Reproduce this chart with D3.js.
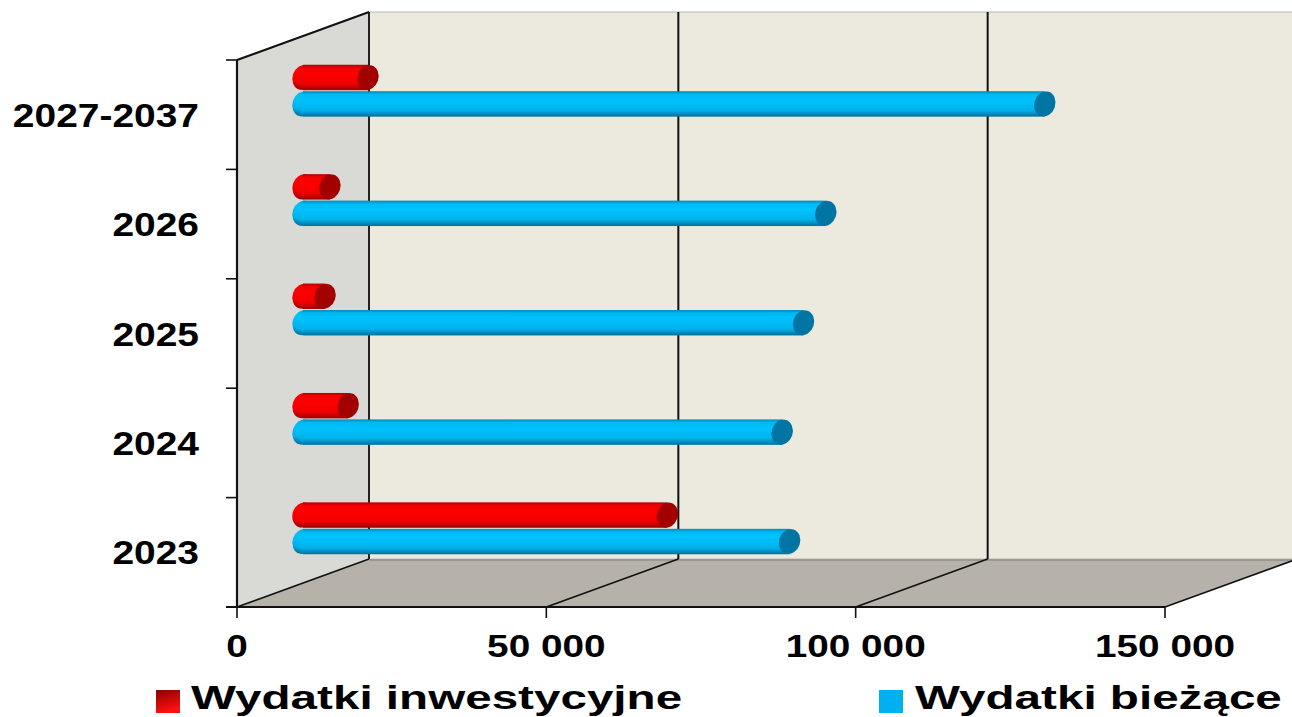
<!DOCTYPE html>
<html>
<head>
<meta charset="utf-8">
<script src="https://cdn.jsdelivr.net/npm/d3@7/dist/d3.min.js"></script>
<style>
  html, body { margin: 0; padding: 0; background: #ffffff; }
  svg { display: block; }
  text { font-family: "Liberation Sans", Arial, sans-serif; font-weight: bold; fill: #000; }
</style>
</head>
<body>
<svg id="chart" width="1292" height="717"></svg>
<script>
// Spending by period (thousand PLN)
const categories = ["2023", "2024", "2025", "2026", "2027-2037"];
const seriesNames = ["Wydatki inwestycyjne", "Wydatki bieżące"];
const investmentValues = [58900, 7300, 3550, 4350, 10500];
const currentValues = [78650, 77450, 80900, 84500, 119900];
const xTicks = [0, 50000, 100000, 150000];

const W = 1292, H = 717;
const svg = d3.select("#chart");

// Oblique depth of the 3D box: back wall offset
const depthX = 132, depthY = -48;
const plotTop = 60, plotBottom = 607;

const x = d3.scaleLinear().domain([0, 150000]).range([237, 1165]);
const y = d3.scaleBand().domain(categories).range([plotBottom, plotTop]).padding(0);
const ySub = d3.scaleBand().domain(seriesNames).range([-27, 27]).padding(0.04);

const fmt = v => d3.format(",")(v).replace(/,/g, " ");

const defs = svg.append("defs");
function cylGradient(id, stops) {
  const g = defs.append("linearGradient").attr("id", id)
    .attr("x1", 0).attr("y1", 0).attr("x2", 0).attr("y2", 1);
  stops.forEach(([o, c]) => g.append("stop").attr("offset", o).attr("stop-color", c));
}
cylGradient("cyl-red", [[0, "#b00000"], [0.12, "#f20000"], [0.35, "#ff0000"], [0.75, "#f00000"], [1, "#9a0000"]]);
cylGradient("cyl-blue", [[0, "#0088b8"], [0.12, "#00b8f0"], [0.35, "#00c2ff"], [0.75, "#00b2ea"], [1, "#006f9c"]]);
const legRed = defs.append("linearGradient").attr("id", "leg-red")
  .attr("x1", 0).attr("y1", 0).attr("x2", 0.3).attr("y2", 1);
legRed.append("stop").attr("offset", 0).attr("stop-color", "#8a0000");
legRed.append("stop").attr("offset", 1).attr("stop-color", "#ff1010");

const seriesStyle = {
  "Wydatki inwestycyjne": { body: "url(#cyl-red)", cap: "#a30000", values: investmentValues },
  "Wydatki bieżące": { body: "url(#cyl-blue)", cap: "#0075a4", values: currentValues }
};

// ---- 3D box: back wall, side wall, floor ----
const x0 = x(0), xMax = x(150000);
svg.append("polygon")
  .attr("points", [[x0 + depthX, plotTop + depthY], [xMax + depthX, plotTop + depthY],
                   [xMax + depthX, plotBottom + depthY], [x0 + depthX, plotBottom + depthY]].join(" "))
  .attr("fill", "#ece9df").attr("stroke", "#b9b6ae").attr("stroke-width", 1);

svg.append("polygon")
  .attr("points", [[x0, plotTop], [x0 + depthX, plotTop + depthY],
                   [x0 + depthX, plotBottom + depthY], [x0, plotBottom]].join(" "))
  .attr("fill", "#d9d9d5");

svg.append("polygon")
  .attr("points", [[x0, plotBottom], [xMax, plotBottom],
                   [xMax + depthX, plotBottom + depthY], [x0 + depthX, plotBottom + depthY]].join(" "))
  .attr("fill", "#b6b2aa");
svg.append("line")
  .attr("x1", x0 + depthX).attr("x2", xMax + depthX)
  .attr("y1", plotBottom + depthY + 1).attr("y2", plotBottom + depthY + 1)
  .attr("stroke", "#9c9891").attr("stroke-width", 2);

// gridlines on the back wall and floor
xTicks.forEach(t => {
  const xt = x(t);
  if (t > 0) {
    svg.append("line")
      .attr("x1", xt + depthX).attr("x2", xt + depthX)
      .attr("y1", plotTop + depthY).attr("y2", plotBottom + depthY)
      .attr("stroke", "#111").attr("stroke-width", 2);
  }
  svg.append("line")
    .attr("x1", xt).attr("y1", plotBottom)
    .attr("x2", xt + depthX).attr("y2", plotBottom + depthY)
    .attr("stroke", "#111").attr("stroke-width", 1.6);
});
// wall corner and side wall top edge
svg.append("line")
  .attr("x1", x0 + depthX).attr("x2", x0 + depthX)
  .attr("y1", plotTop + depthY).attr("y2", plotBottom + depthY)
  .attr("stroke", "#222").attr("stroke-width", 2);
svg.append("line")
  .attr("x1", x0).attr("y1", plotTop)
  .attr("x2", x0 + depthX).attr("y2", plotTop + depthY)
  .attr("stroke", "#111").attr("stroke-width", 2);

// ---- cylinders, drawn at mid depth ----
const midX = depthX / 2, midY = depthY / 2;
const capRx = 10.5;
const bars = svg.append("g");
categories.forEach((cat, i) => {
  seriesNames.forEach(s => {
    const st = seriesStyle[s];
    const v = st.values[i];
    const cy = y(cat) + y.bandwidth() / 2 + midY + ySub(s) + ySub.bandwidth() / 2;
    const r = ySub.bandwidth() / 2;
    const xa = x(0) + midX, xb = x(v) + midX;
    const g = bars.append("g");
    g.append("ellipse")
      .attr("cx", xa).attr("cy", cy).attr("rx", capRx).attr("ry", r)
      .attr("transform", `rotate(18 ${xa} ${cy})`)
      .attr("fill", st.body);
    g.append("rect")
      .attr("x", xa).attr("y", cy - r).attr("width", xb - xa).attr("height", 2 * r)
      .attr("fill", st.body);
    g.append("ellipse")
      .attr("cx", xb).attr("cy", cy).attr("rx", capRx).attr("ry", r)
      .attr("transform", `rotate(18 ${xb} ${cy})`)
      .attr("fill", st.cap);
  });
});

// ---- front axes ----
svg.append("line").attr("x1", x0).attr("x2", x0).attr("y1", plotTop).attr("y2", plotBottom)
  .attr("stroke", "#111").attr("stroke-width", 2.2);
svg.append("line").attr("x1", x0 - 11).attr("x2", xMax).attr("y1", plotBottom).attr("y2", plotBottom)
  .attr("stroke", "#111").attr("stroke-width", 2.2);

const yBounds = categories.map(c => y(c)).concat([plotBottom]);
yBounds.forEach(yy => {
  svg.append("line").attr("x1", x0 - 11).attr("x2", x0).attr("y1", yy).attr("y2", yy)
    .attr("stroke", "#111").attr("stroke-width", 1.6);
});
xTicks.forEach(t => {
  svg.append("line").attr("x1", x(t)).attr("x2", x(t)).attr("y1", plotBottom).attr("y2", plotBottom + 11)
    .attr("stroke", "#111").attr("stroke-width", 1.6);
});

// category labels
categories.forEach(c => {
  const cy = y(c) + y.bandwidth() / 2;
  svg.append("text")
    .attr("transform", `translate(199,${cy + 12}) scale(1.18,1)`)
    .attr("text-anchor", "end")
    .style("font-size", "33px")
    .text(c);
});

// value labels
xTicks.forEach(t => {
  svg.append("text")
    .attr("transform", `translate(${x(t)},657) scale(1.27,1)`)
    .attr("text-anchor", "middle")
    .style("font-size", "30.5px")
    .text(fmt(t));
});

// ---- legend ----
const legend = [
  { name: seriesNames[0], fill: "url(#leg-red)", sx: 156, tx: 191 },
  { name: seriesNames[1], fill: "#00b0f0", sx: 879, tx: 915 }
];
legend.forEach(l => {
  svg.append("rect").attr("x", l.sx).attr("y", 690).attr("width", 24).attr("height", 23)
    .attr("fill", l.fill);
  svg.append("text")
    .attr("transform", `translate(${l.tx},709) scale(1.4,1)`)
    .style("font-size", "34px")
    .text(l.name);
});
</script>
</body>
</html>
